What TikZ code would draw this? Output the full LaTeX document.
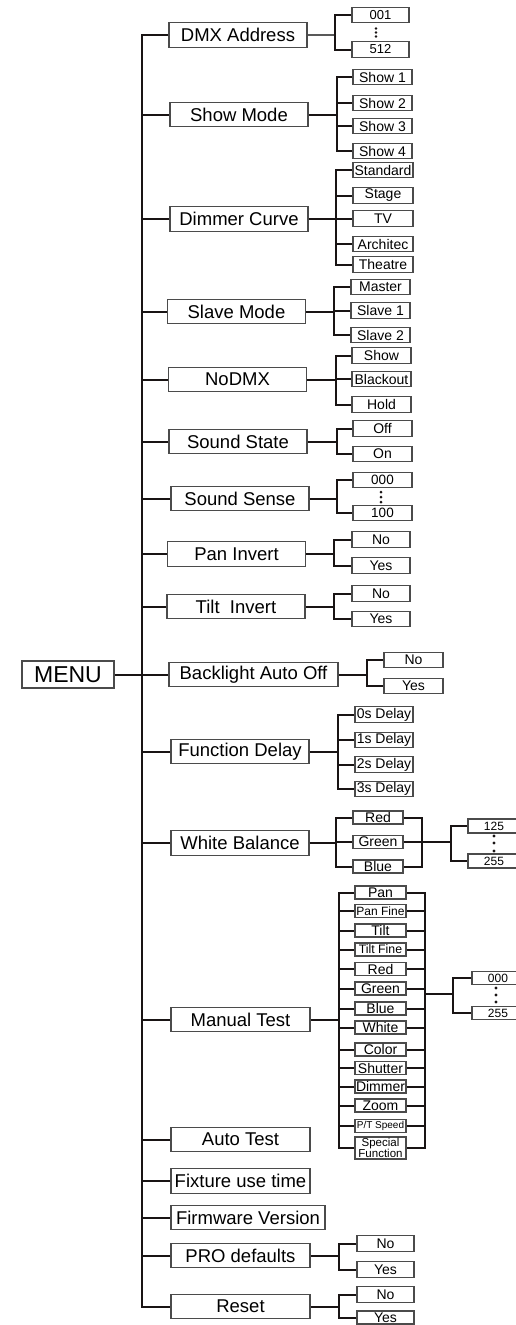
\documentclass[tikz,border=0pt]{standalone}
\usepackage{fontspec}
\setmainfont{Liberation Sans}
\newcommand{\myfs}[1]{\fontsize{#1}{#1}\selectfont}
\definecolor{boxc}{RGB}{75,75,75}
\definecolor{wirec}{RGB}{25,20,20}
\tikzset{
  box/.style={draw=boxc, line width=1.1pt, inner sep=0pt, fill=white},
  lone/.style={box, minimum width=138pt, minimum height=24.5pt, font=\myfs{18.5}},
  ltwo/.style={box, minimum width=58pt, minimum height=15.5pt, font=\myfs{14}},
  lthree/.style={box, minimum width=51pt, minimum height=13pt, font=\myfs{14}},
  lnum/.style={box, minimum width=52pt, minimum height=14pt, font=\myfs{12}},
  wire/.style={line width=2pt, draw=wirec},
  thinwire/.style={line width=1.2pt, draw=black!65},
  dotc/.style={fill=wirec}
}
\begin{document}
\begin{tikzpicture}[x=1pt,y=-1pt]
\useasboundingbox (0,0) rectangle (516,1325);
\clip (0,0) rectangle (516,1325);
\fill[white] (0,0) rectangle (516,1325);

% ---------- MENU and level 1 ----------
\node[box, minimum width=92pt, minimum height=27pt, font=\myfs{23}] (menu) at (68,674.5) {MENU};
\coordinate (tr) at (142,674.5);

\node[lone] (dmx) at (238,35) {DMX Address};
\node[lone] (show) at (239,114.5) {Show Mode};
\node[lone] (dim) at (239,219) {Dimmer Curve};
\node[lone] (slave) at (236.5,311.5) {Slave Mode};
\node[lone] (nodmx) at (237.5,379.5) {NoDMX};
\node[lone] (sstate) at (238,441.5) {Sound State};
\node[lone] (ssense) at (240,498.5) {Sound Sense};
\node[lone] (pan) at (236.5,554) {Pan Invert};
\node[lone] (tilt) at (236,606.5) {Tilt~ Invert};
\node[lone, minimum width=169pt] (bl) at (253.5,674.5) {Backlight Auto Off};
\node[lone] (fdel) at (240,751.5) {Function Delay};
\node[lone] (wb) at (240,843) {White Balance};
\node[lone, minimum width=139pt] (mt) at (240.5,1019.5) {Manual Test};
\node[lone, minimum width=139pt] (at) at (240.5,1139.5) {Auto Test};
\node[lone, minimum width=139pt] (fix) at (240.5,1181) {Fixture use time};
\node[lone, minimum width=154pt] (fw) at (248,1217.5) {Firmware Version};
\node[lone, minimum width=139pt] (pro) at (240.5,1255.5) {PRO defaults};
\node[lone, minimum width=139pt] (reset) at (240.5,1306.5) {Reset};

% trunk
\draw[wire] (dmx.west) -| (tr) |- (reset.west);
\foreach \n in {show,dim,slave,nodmx,sstate,ssense,pan,tilt,fdel,wb,mt,at,fix,fw,pro}
  \draw[wire] (\n.west) -- (\n.west -| tr);
\draw[wire] (menu.east) -- (bl.west);

% ---------- DMX Address ----------
\node[ltwo, minimum width=57pt, font=\myfs{13}] (d001) at (380.5,15) {001};
\node[ltwo, minimum width=57pt, font=\myfs{13}] (d512) at (380.5,49.5) {512};
\coordinate (jdmx) at (335,35);
\draw[thinwire] (dmx.east) -- (jdmx);
\draw[wire] (d001.west) -| (jdmx) |- (d512.west);
\foreach \yy in {28.5,32.5,36.5} \fill[dotc] (376,\yy) circle (1.4);

% ---------- Show Mode ----------
\node[ltwo, minimum width=59pt] (sh1) at (382.5,77) {Show 1};
\node[ltwo, minimum width=59pt] (sh2) at (382.5,103) {Show 2};
\node[ltwo, minimum width=59pt] (sh3) at (382.5,126) {Show 3};
\node[ltwo, minimum width=59pt] (sh4) at (382.5,151) {Show 4};
\coordinate (jshow) at (337,114.5);
\draw[wire] (show.east) -- (jshow);
\draw[wire] (sh1.west) -| (jshow) |- (sh4.west);
\foreach \n in {sh2,sh3} \draw[wire] (\n.west) -- (\n.west -| jshow);

% ---------- Dimmer Curve ----------
\node[ltwo, minimum width=60pt] (dc1) at (383,170) {Standard};
\node[ltwo, minimum width=60pt] (dc2) at (383,195.5) {Stage};
\node[ltwo, minimum width=60pt] (dc3) at (383,218.5) {TV};
\node[ltwo, minimum width=60pt] (dc4) at (383,244) {Architec};
\node[ltwo, minimum width=60pt] (dc5) at (383,264.5) {Theatre};
\coordinate (jdim) at (336,219);
\draw[wire] (dim.east) -- (jdim);
\draw[wire] (dc1.west) -| (jdim) |- (dc5.west);
\foreach \n in {dc2,dc3,dc4} \draw[wire] (\n.west) -- (\n.west -| jdim);

% ---------- Slave Mode ----------
\node[ltwo, minimum width=59pt] (sm1) at (380.5,287) {Master};
\node[ltwo, minimum width=59pt] (sm2) at (380.5,310.5) {Slave 1};
\node[ltwo, minimum width=59pt] (sm3) at (380.5,335) {Slave 2};
\coordinate (jslave) at (334,311.5);
\draw[wire] (slave.east) -- (jslave);
\draw[wire] (sm1.west) -| (jslave) |- (sm3.west);
\draw[wire] (sm2.west) -- (sm2.west -| jslave);

% ---------- NoDMX ----------
\node[ltwo, minimum width=59pt] (nd1) at (381.5,355.5) {Show};
\node[ltwo, minimum width=59pt] (nd2) at (381.5,379) {Blackout};
\node[ltwo, minimum width=59pt] (nd3) at (381.5,404.5) {Hold};
\coordinate (jnodmx) at (336,379.5);
\draw[wire] (nodmx.east) -- (jnodmx);
\draw[wire] (nd1.west) -| (jnodmx) |- (nd3.west);
\draw[wire] (nd2.west) -- (nd2.west -| jnodmx);

% ---------- Sound State ----------
\node[ltwo, minimum width=59pt] (ss1) at (382.5,428.5) {Off};
\node[ltwo, minimum width=59pt] (ss2) at (382.5,454) {On};
\coordinate (jsstate) at (337,441.5);
\draw[wire] (sstate.east) -- (jsstate);
\draw[wire] (ss1.west) -| (jsstate) |- (ss2.west);

% ---------- Sound Sense ----------
\node[ltwo, minimum width=59pt, font=\myfs{13.5}] (se1) at (382.5,480) {000};
\node[ltwo, minimum width=59pt, font=\myfs{13.5}] (se2) at (382.5,513) {100};
\coordinate (jssense) at (337,498.5);
\draw[wire] (ssense.east) -- (jssense);
\draw[wire] (se1.west) -| (jssense) |- (se2.west);
\foreach \yy in {492,497,502} \fill[dotc] (381,\yy) circle (1.5);

% ---------- Pan Invert ----------
\node[ltwo] (pi1) at (381,539.5) {No};
\node[ltwo] (pi2) at (381,565.5) {Yes};
\coordinate (jpan) at (334,554);
\draw[wire] (pan.east) -- (jpan);
\draw[wire] (pi1.west) -| (jpan) |- (pi2.west);

% ---------- Tilt Invert ----------
\node[ltwo] (ti1) at (381,593.5) {No};
\node[ltwo] (ti2) at (381,619) {Yes};
\coordinate (jtilt) at (334,606.5);
\draw[wire] (tilt.east) -- (jtilt);
\draw[wire] (ti1.west) -| (jtilt) |- (ti2.west);

% ---------- Backlight Auto Off ----------
\node[ltwo, minimum width=59pt] (bl1) at (413.5,660) {No};
\node[ltwo, minimum width=59pt] (bl2) at (413.5,686) {Yes};
\coordinate (jbl) at (367,674.5);
\draw[wire] (bl.east) -- (jbl);
\draw[wire] (bl1.west) -| (jbl) |- (bl2.west);

% ---------- Function Delay ----------
\node[ltwo] (fd1) at (384,714.5) {0s Delay};
\node[ltwo] (fd2) at (384,740) {1s Delay};
\node[ltwo] (fd3) at (384,764.5) {2s Delay};
\node[ltwo] (fd4) at (384,789) {3s Delay};
\coordinate (jfdel) at (338,751.5);
\draw[wire] (fdel.east) -- (jfdel);
\draw[wire] (fd1.west) -| (jfdel) |- (fd4.west);
\foreach \n in {fd2,fd3} \draw[wire] (\n.west) -- (\n.west -| jfdel);

% ---------- White Balance ----------
\node[lthree, minimum width=50pt] (wbr) at (378,817.5) {Red};
\node[lthree, minimum width=50pt] (wbg) at (378,842) {Green};
\node[lthree, minimum width=50pt] (wbb) at (378,866.5) {Blue};
\coordinate (jwb) at (336,843);
\coordinate (jwbr) at (422,842);
\coordinate (jwb2) at (451,842);
\draw[wire] (wb.east) -- (jwb);
\draw[wire] (wbr.west) -| (jwb) |- (wbb.west);
\draw[wire] (wbg.west) -- (wbg.west -| jwb);
\draw[wire] (wbr.east) -| (jwbr) |- (wbb.east);
\draw[wire] (wbg.east) -- (jwb2);
\node[lnum] (w125) at (494,826) {125};
\node[lnum] (w255) at (494,861) {255};
\draw[wire] (w125.west) -| (jwb2) |- (w255.west);
\foreach \yy in {836,843,851} \fill[dotc] (494,\yy) circle (1.7);

% ---------- Manual Test ----------
\node[lthree] (m1) at (380.5,892.5) {Pan};
\node[lthree, font=\myfs{12}] (m2) at (380.5,911) {Pan Fine};
\node[lthree] (m3) at (380.5,930.5) {Tilt};
\node[lthree, font=\myfs{12.3}] (m4) at (380.5,949.5) {Tilt Fine};
\node[lthree] (m5) at (380.5,969) {Red};
\node[lthree] (m6) at (380.5,988.5) {Green};
\node[lthree] (m7) at (380.5,1008.5) {Blue};
\node[lthree] (m8) at (380.5,1027.5) {White};
\node[lthree] (m9) at (380.5,1049.5) {Color};
\node[lthree] (m10) at (380.5,1068) {Shutter};
\node[lthree] (m11) at (380.5,1086.5) {Dimmer};
\node[lthree] (m12) at (380.5,1105.5) {Zoom};
\node[lthree, font=\myfs{10}] (m13) at (380.5,1126) {P/T Speed};
\node[lthree, minimum height=22pt, align=center, font=\fontsize{11.5}{11}\selectfont] (m14) at (380.5,1148) {Special\\Function};
\coordinate (jmt) at (339,1019.5);
\coordinate (jmtr) at (425,994);
\coordinate (jmt2) at (453,994);
\draw[wire] (mt.east) -- (jmt);
\draw[wire] (m1.west) -| (jmt) |- (m14.west);
\draw[wire] (m1.east) -| (jmtr) |- (m14.east);
\foreach \n in {m2,m3,m4,m5,m6,m7,m8,m9,m10,m11,m12,m13} {
  \draw[wire] (\n.west) -- (\n.west -| jmt);
  \draw[wire] (\n.east) -- (\n.east -| jmtr);
}
\draw[wire] (jmtr) -- (jmt2);
\node[lnum, minimum height=12.5pt] (t000) at (498,978) {000};
\node[lnum, minimum height=12.5pt] (t255) at (498,1013) {255};
\draw[wire] (t000.west) -| (jmt2) |- (t255.west);
\foreach \yy in {988,995,1002} \fill[dotc] (496,\yy) circle (1.7);

% ---------- PRO defaults ----------
\node[ltwo, minimum width=57pt] (pd1) at (385.5,1243.5) {No};
\node[ltwo, minimum width=57pt] (pd2) at (385.5,1269.5) {Yes};
\coordinate (jpro) at (339,1255.5);
\draw[wire] (pro.east) -- (jpro);
\draw[wire] (pd1.west) -| (jpro) |- (pd2.west);

% ---------- Reset ----------
\node[ltwo, minimum width=57pt] (rs1) at (385.5,1294.5) {No};
\node[ltwo, minimum width=57pt, minimum height=13pt] (rs2) at (385.5,1317.5) {Yes};
\coordinate (jreset) at (339,1306.5);
\draw[wire] (reset.east) -- (jreset);
\draw[wire] (rs1.west) -| (jreset) |- (rs2.west);
\end{tikzpicture}
\end{document}
